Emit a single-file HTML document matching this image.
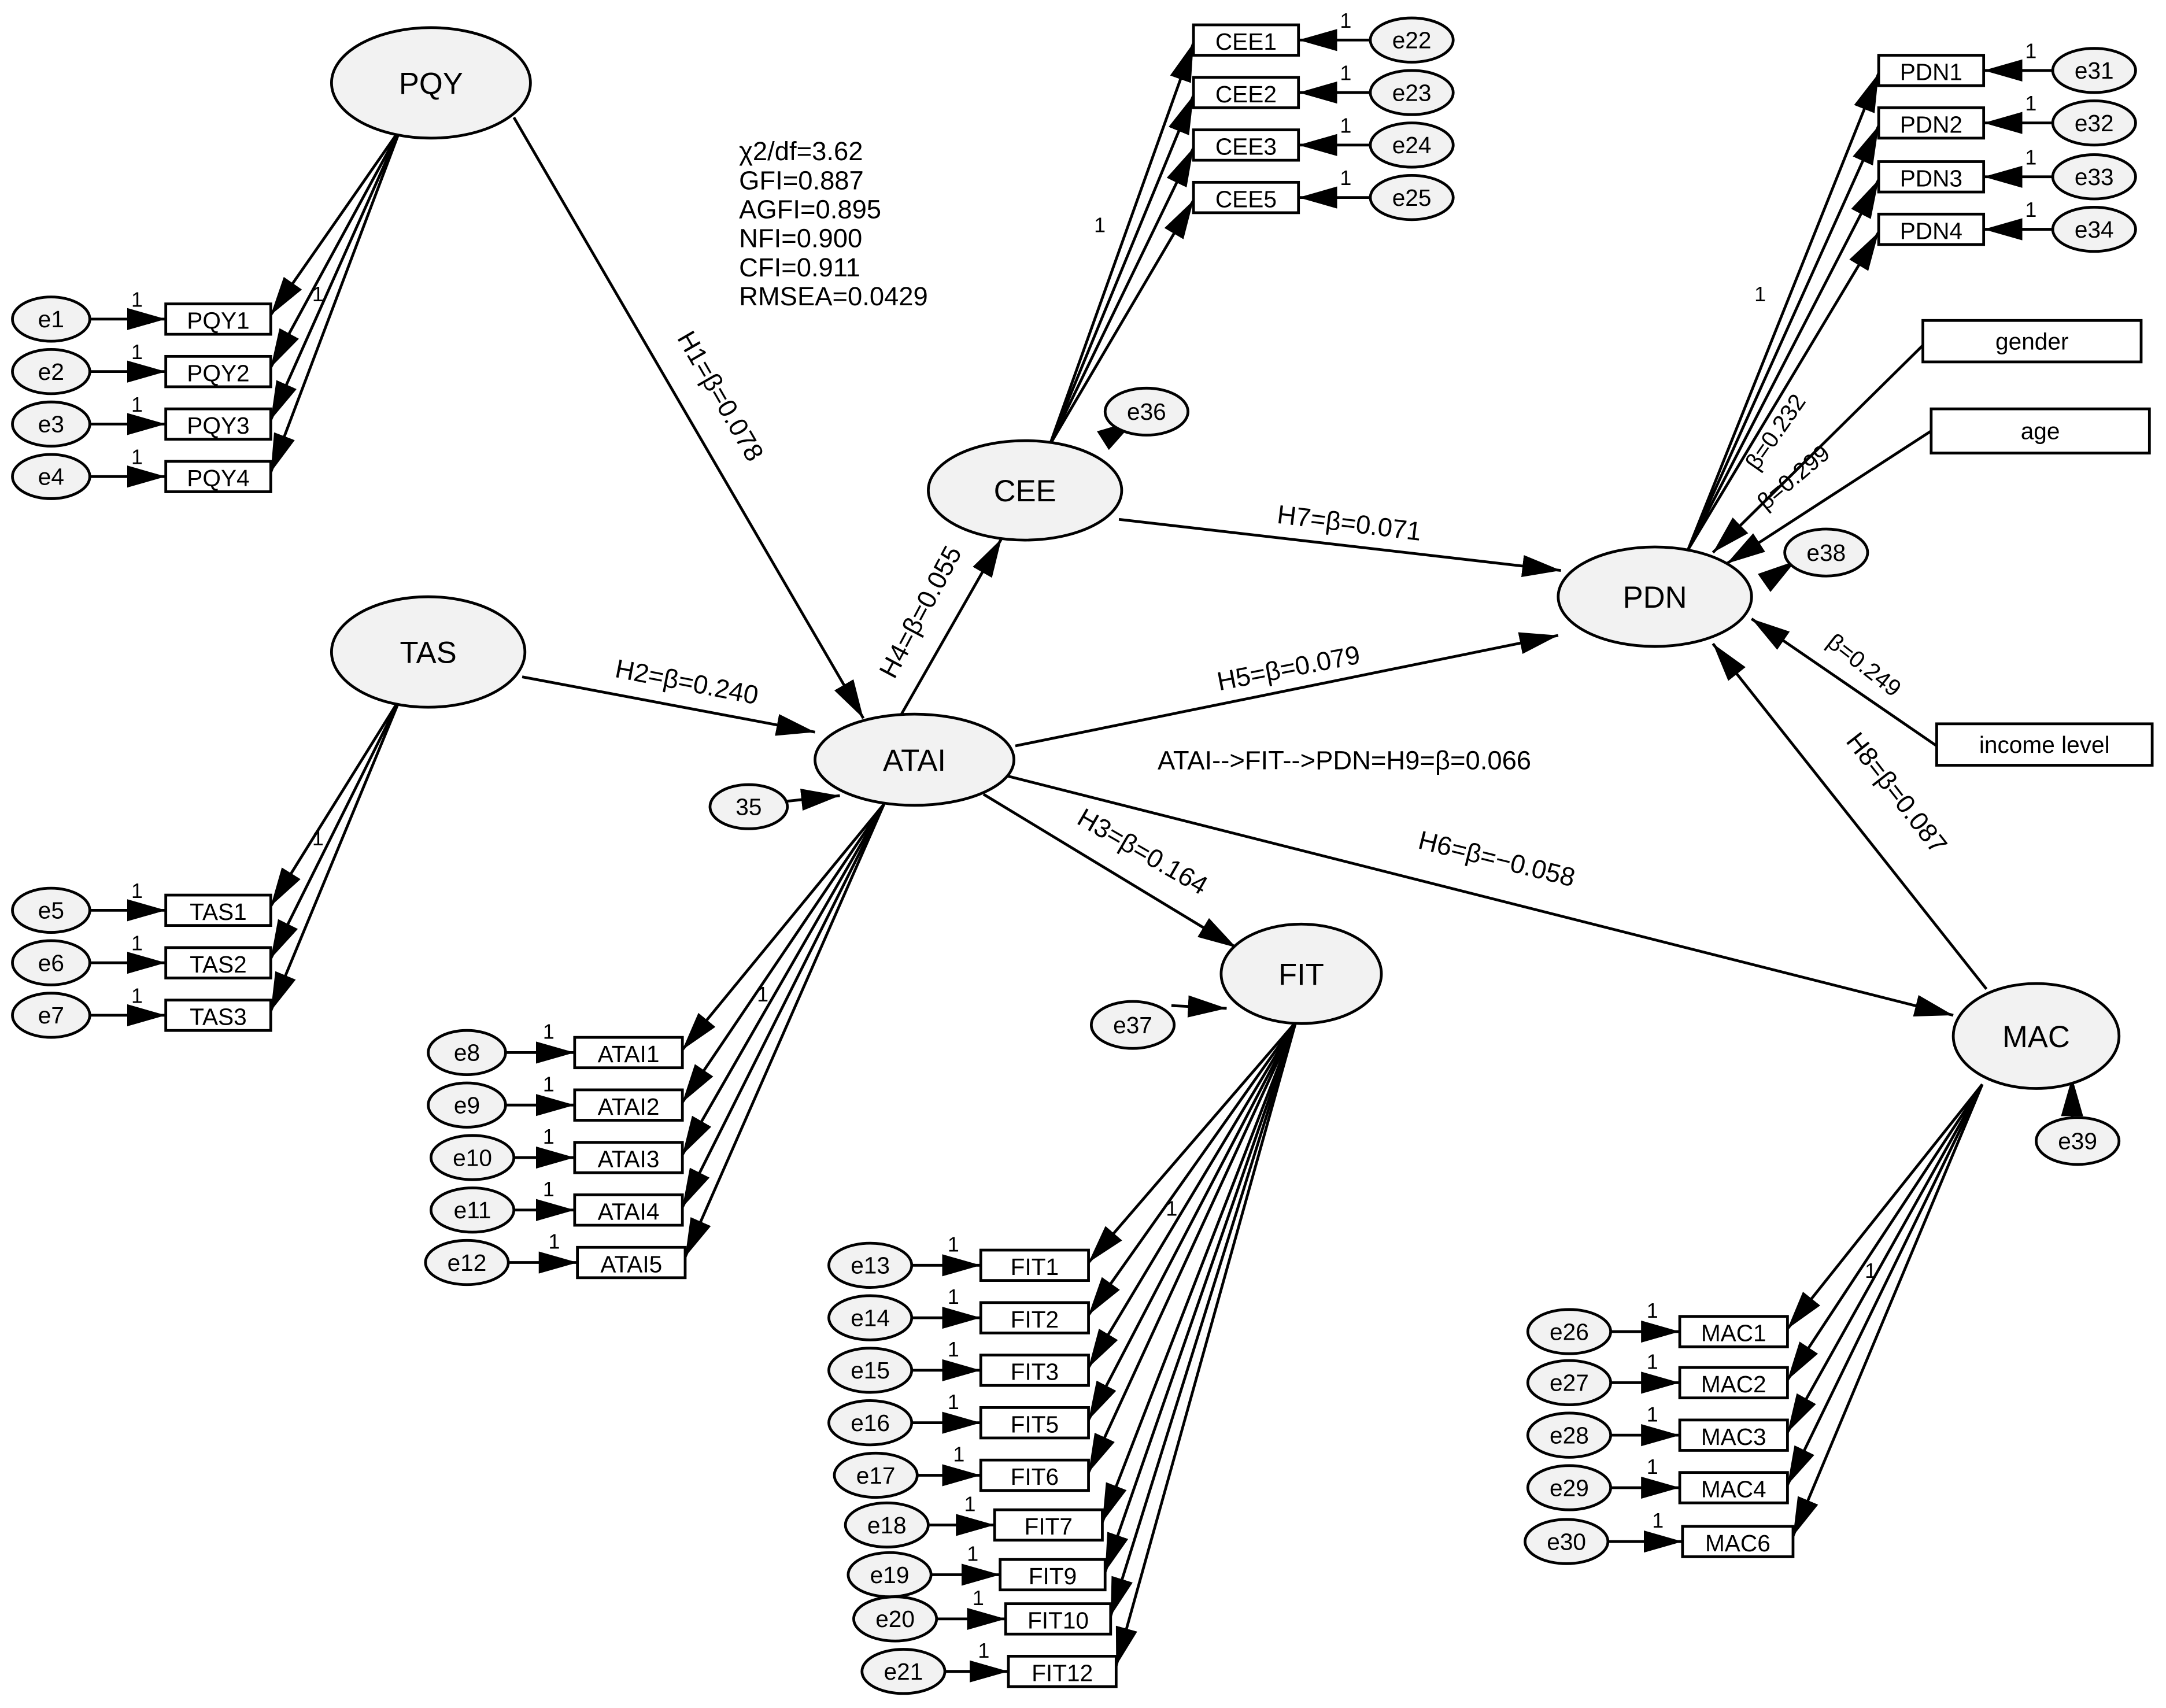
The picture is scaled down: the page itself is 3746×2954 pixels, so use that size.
<!DOCTYPE html>
<html><head><meta charset="utf-8"><style>
html,body{margin:0;padding:0;background:#fff}
svg{display:block}
text{font-family:"Liberation Sans",Arial,sans-serif;fill:#000}
.lv{font-size:22px;text-anchor:middle}
.ob{font-size:17px;text-anchor:middle}
.er{font-size:17px;text-anchor:middle}
.one{font-size:15px}
.pl{font-size:19px;text-anchor:middle}
ellipse{fill:#f2f2f2;stroke:#000;stroke-width:2}
rect{fill:#fff;stroke:#000;stroke-width:2}
line{stroke:#000;stroke-width:2}
</style></head><body>
<svg width="3746" height="2954" viewBox="0 0 1568 1236.5" preserveAspectRatio="none" xmlns="http://www.w3.org/2000/svg">
<defs><marker id="a" markerWidth="12" markerHeight="8" refX="11" refY="4" orient="auto" markerUnits="userSpaceOnUse" viewBox="0 0 12 8"><path d="M0,0L12,4L0,8z" fill="#000"/></marker>
<marker id="b" viewBox="0 0 10 10" refX="10" refY="5" markerWidth="28" markerHeight="16" orient="auto" markerUnits="userSpaceOnUse" preserveAspectRatio="none"><path d="M0,0L10,5L0,10z" fill="#000"/></marker></defs>
<g marker-end="url(#b)">
<!-- structural -->
<line x1="372" y1="85" x2="625" y2="520"/>
<line x1="378" y1="490" x2="590" y2="530"/>
<line x1="652" y1="518" x2="725" y2="390"/>
<line x1="810" y1="376" x2="1130" y2="413"/>
<line x1="735" y1="540" x2="1128" y2="460"/>
<line x1="712" y1="575" x2="895" y2="686"/>
<line x1="730" y1="562" x2="1414" y2="735"/>
<line x1="1438" y1="716" x2="1240" y2="466"/>
<line x1="1392" y1="250" x2="1240" y2="400"/>
<line x1="1398" y1="312" x2="1250" y2="408"/>
<line x1="1402" y1="540" x2="1268" y2="448"/>
<line x1="570" y1="580" x2="608" y2="576"/>
<line x1="800" y1="318" x2="822" y2="304"/>
<line x1="848" y1="728" x2="888" y2="730"/>
<line x1="1280" y1="420" x2="1300" y2="406"/>
<line x1="1500" y1="810" x2="1500" y2="780"/>
<!-- PQY -->
<line x1="290" y1="93" x2="196" y2="228"/><line x1="290" y1="93" x2="196" y2="266"/><line x1="290" y1="93" x2="196" y2="304"/><line x1="290" y1="93" x2="196" y2="342"/>
<!-- TAS -->
<line x1="290" y1="505" x2="196" y2="656"/><line x1="290" y1="505" x2="196" y2="694"/><line x1="290" y1="505" x2="196" y2="732"/>
<!-- ATAI -->
<line x1="640" y1="582" x2="494" y2="760"/><line x1="640" y1="582" x2="494" y2="798"/><line x1="640" y1="582" x2="494" y2="836"/><line x1="640" y1="582" x2="494" y2="874"/><line x1="640" y1="582" x2="496" y2="910"/>
<!-- CEE -->
<line x1="760" y1="322" x2="864" y2="31"/><line x1="760" y1="322" x2="864" y2="69"/><line x1="760" y1="322" x2="864" y2="107"/><line x1="760" y1="322" x2="864" y2="145"/>
<!-- PDN -->
<line x1="1222" y1="398" x2="1360" y2="53"/><line x1="1222" y1="398" x2="1360" y2="91"/><line x1="1222" y1="398" x2="1360" y2="130"/><line x1="1222" y1="398" x2="1360" y2="168"/>
<!-- FIT -->
<line x1="938" y1="740" x2="788" y2="914"/><line x1="938" y1="740" x2="788" y2="952"/><line x1="938" y1="740" x2="788" y2="990"/><line x1="938" y1="740" x2="788" y2="1028"/><line x1="938" y1="740" x2="788" y2="1066"/><line x1="938" y1="740" x2="798" y2="1102"/><line x1="938" y1="740" x2="800" y2="1138"/><line x1="938" y1="740" x2="804" y2="1170"/><line x1="938" y1="740" x2="808" y2="1206"/>
<!-- MAC -->
<line x1="1435" y1="785" x2="1294" y2="962"/><line x1="1435" y1="785" x2="1294" y2="999"/><line x1="1435" y1="785" x2="1294" y2="1037"/><line x1="1435" y1="785" x2="1294" y2="1075"/><line x1="1435" y1="785" x2="1298" y2="1112"/>
<!-- errors -->
<line x1="65" y1="231" x2="120" y2="231"/><line x1="65" y1="269" x2="120" y2="269"/><line x1="65" y1="307" x2="120" y2="307"/><line x1="65" y1="345" x2="120" y2="345"/>
<line x1="65" y1="659" x2="120" y2="659"/><line x1="65" y1="697" x2="120" y2="697"/><line x1="65" y1="735" x2="120" y2="735"/>
<line x1="366" y1="762" x2="416" y2="762"/><line x1="366" y1="800" x2="416" y2="800"/><line x1="372" y1="838" x2="416" y2="838"/><line x1="372" y1="876" x2="416" y2="876"/><line x1="368" y1="914" x2="418" y2="914"/>
<line x1="658" y1="916" x2="710" y2="916"/><line x1="658" y1="954" x2="710" y2="954"/><line x1="658" y1="992" x2="710" y2="992"/><line x1="658" y1="1030" x2="710" y2="1030"/><line x1="662" y1="1068" x2="710" y2="1068"/><line x1="670" y1="1104" x2="720" y2="1104"/><line x1="672" y1="1140" x2="724" y2="1140"/><line x1="676" y1="1172" x2="728" y2="1172"/><line x1="682" y1="1210" x2="730" y2="1210"/>
<line x1="1166" y1="964" x2="1216" y2="964"/><line x1="1166" y1="1001" x2="1216" y2="1001"/><line x1="1166" y1="1039" x2="1216" y2="1039"/><line x1="1166" y1="1077" x2="1216" y2="1077"/><line x1="1164" y1="1116" x2="1218" y2="1116"/>
<line x1="992" y1="29" x2="940" y2="29"/><line x1="992" y1="67" x2="940" y2="67"/><line x1="992" y1="105" x2="940" y2="105"/><line x1="992" y1="143" x2="940" y2="143"/>
<line x1="1486" y1="51" x2="1436" y2="51"/><line x1="1486" y1="89" x2="1436" y2="89"/><line x1="1486" y1="128" x2="1436" y2="128"/><line x1="1486" y1="166" x2="1436" y2="166"/>
</g>
<!-- latent ellipses -->
<ellipse cx="312" cy="60" rx="72" ry="40"/><text class="lv" x="312" y="68">PQY</text>
<ellipse cx="310" cy="472" rx="70" ry="40"/><text class="lv" x="310" y="480">TAS</text>
<ellipse cx="662" cy="550" rx="72" ry="33"/><text class="lv" x="662" y="558">ATAI</text>
<ellipse cx="742" cy="355" rx="70" ry="36"/><text class="lv" x="742" y="363">CEE</text>
<ellipse cx="1198" cy="432" rx="70" ry="36"/><text class="lv" x="1198" y="440">PDN</text>
<ellipse cx="942" cy="705" rx="58" ry="36"/><text class="lv" x="942" y="713">FIT</text>
<ellipse cx="1474" cy="750" rx="60" ry="38"/><text class="lv" x="1474" y="758">MAC</text>
<!-- residual ellipses -->
<ellipse cx="542" cy="584" rx="28" ry="16"/><text class="er" x="542" y="590">35</text>
<ellipse cx="830" cy="298" rx="30" ry="17"/><text class="er" x="830" y="304">e36</text>
<ellipse cx="820" cy="742" rx="30" ry="17"/><text class="er" x="820" y="748">e37</text>
<ellipse cx="1322" cy="400" rx="30" ry="17"/><text class="er" x="1322" y="406">e38</text>
<ellipse cx="1504" cy="826" rx="30" ry="17"/><text class="er" x="1504" y="832">e39</text>
<!-- PQY obs -->
<g>
<rect x="120" y="220" width="76" height="22"/><text class="ob" x="158" y="238">PQY1</text>
<rect x="120" y="258" width="76" height="22"/><text class="ob" x="158" y="276">PQY2</text>
<rect x="120" y="296" width="76" height="22"/><text class="ob" x="158" y="314">PQY3</text>
<rect x="120" y="334" width="76" height="22"/><text class="ob" x="158" y="352">PQY4</text>
<ellipse cx="37" cy="231" rx="28" ry="16"/><text class="er" x="37" y="237">e1</text>
<ellipse cx="37" cy="269" rx="28" ry="16"/><text class="er" x="37" y="275">e2</text>
<ellipse cx="37" cy="307" rx="28" ry="16"/><text class="er" x="37" y="313">e3</text>
<ellipse cx="37" cy="345" rx="28" ry="16"/><text class="er" x="37" y="351">e4</text>
<text class="one" x="95" y="222">1</text><text class="one" x="95" y="260">1</text><text class="one" x="95" y="298">1</text><text class="one" x="95" y="336">1</text><text class="one" x="226" y="218">1</text>
</g>
<g>
<rect x="120" y="648" width="76" height="22"/><text class="ob" x="158" y="666">TAS1</text>
<rect x="120" y="686" width="76" height="22"/><text class="ob" x="158" y="704">TAS2</text>
<rect x="120" y="724" width="76" height="22"/><text class="ob" x="158" y="742">TAS3</text>
<ellipse cx="37" cy="659" rx="28" ry="16"/><text class="er" x="37" y="665">e5</text>
<ellipse cx="37" cy="697" rx="28" ry="16"/><text class="er" x="37" y="703">e6</text>
<ellipse cx="37" cy="735" rx="28" ry="16"/><text class="er" x="37" y="741">e7</text>
<text class="one" x="95" y="650">1</text><text class="one" x="95" y="688">1</text><text class="one" x="95" y="726">1</text><text class="one" x="226" y="612">1</text>
</g>
<g>
<rect x="416" y="751" width="78" height="22"/><text class="ob" x="455" y="769">ATAI1</text>
<rect x="416" y="789" width="78" height="22"/><text class="ob" x="455" y="807">ATAI2</text>
<rect x="416" y="827" width="78" height="22"/><text class="ob" x="455" y="845">ATAI3</text>
<rect x="416" y="865" width="78" height="22"/><text class="ob" x="455" y="883">ATAI4</text>
<rect x="418" y="903" width="78" height="22"/><text class="ob" x="457" y="921">ATAI5</text>
<ellipse cx="338" cy="762" rx="28" ry="16"/><text class="er" x="338" y="768">e8</text>
<ellipse cx="338" cy="800" rx="28" ry="16"/><text class="er" x="338" y="806">e9</text>
<ellipse cx="342" cy="838" rx="30" ry="16"/><text class="er" x="342" y="844">e10</text>
<ellipse cx="342" cy="876" rx="30" ry="16"/><text class="er" x="342" y="882">e11</text>
<ellipse cx="338" cy="914" rx="30" ry="16"/><text class="er" x="338" y="920">e12</text>
<text class="one" x="393" y="752">1</text><text class="one" x="393" y="790">1</text><text class="one" x="393" y="828">1</text><text class="one" x="393" y="866">1</text><text class="one" x="397" y="904">1</text><text class="one" x="548" y="725">1</text>
</g>
<g>
<rect x="710" y="905" width="78" height="22"/><text class="ob" x="749" y="923">FIT1</text>
<rect x="710" y="943" width="78" height="22"/><text class="ob" x="749" y="961">FIT2</text>
<rect x="710" y="981" width="78" height="22"/><text class="ob" x="749" y="999">FIT3</text>
<rect x="710" y="1019" width="78" height="22"/><text class="ob" x="749" y="1037">FIT5</text>
<rect x="710" y="1057" width="78" height="22"/><text class="ob" x="749" y="1075">FIT6</text>
<rect x="720" y="1093" width="78" height="22"/><text class="ob" x="759" y="1111">FIT7</text>
<rect x="724" y="1129" width="76" height="22"/><text class="ob" x="762" y="1147">FIT9</text>
<rect x="728" y="1161" width="76" height="22"/><text class="ob" x="766" y="1179">FIT10</text>
<rect x="730" y="1199" width="78" height="22"/><text class="ob" x="769" y="1217">FIT12</text>
<ellipse cx="630" cy="916" rx="30" ry="16"/><text class="er" x="630" y="922">e13</text>
<ellipse cx="630" cy="954" rx="30" ry="16"/><text class="er" x="630" y="960">e14</text>
<ellipse cx="630" cy="992" rx="30" ry="16"/><text class="er" x="630" y="998">e15</text>
<ellipse cx="630" cy="1030" rx="30" ry="16"/><text class="er" x="630" y="1036">e16</text>
<ellipse cx="634" cy="1068" rx="30" ry="16"/><text class="er" x="634" y="1074">e17</text>
<ellipse cx="642" cy="1104" rx="30" ry="16"/><text class="er" x="642" y="1110">e18</text>
<ellipse cx="644" cy="1140" rx="30" ry="16"/><text class="er" x="644" y="1146">e19</text>
<ellipse cx="648" cy="1172" rx="30" ry="16"/><text class="er" x="648" y="1178">e20</text>
<ellipse cx="654" cy="1210" rx="30" ry="16"/><text class="er" x="654" y="1216">e21</text>
<text class="one" x="686" y="906">1</text><text class="one" x="686" y="944">1</text><text class="one" x="686" y="982">1</text><text class="one" x="686" y="1020">1</text><text class="one" x="690" y="1058">1</text><text class="one" x="698" y="1094">1</text><text class="one" x="700" y="1130">1</text><text class="one" x="704" y="1162">1</text><text class="one" x="708" y="1200">1</text><text class="one" x="844" y="880">1</text>
</g>
<g>
<rect x="1216" y="953" width="78" height="22"/><text class="ob" x="1255" y="971">MAC1</text>
<rect x="1216" y="990" width="78" height="22"/><text class="ob" x="1255" y="1008">MAC2</text>
<rect x="1216" y="1028" width="78" height="22"/><text class="ob" x="1255" y="1046">MAC3</text>
<rect x="1216" y="1066" width="78" height="22"/><text class="ob" x="1255" y="1084">MAC4</text>
<rect x="1218" y="1105" width="80" height="22"/><text class="ob" x="1258" y="1123">MAC6</text>
<ellipse cx="1136" cy="964" rx="30" ry="16"/><text class="er" x="1136" y="970">e26</text>
<ellipse cx="1136" cy="1001" rx="30" ry="16"/><text class="er" x="1136" y="1007">e27</text>
<ellipse cx="1136" cy="1039" rx="30" ry="16"/><text class="er" x="1136" y="1045">e28</text>
<ellipse cx="1136" cy="1077" rx="30" ry="16"/><text class="er" x="1136" y="1083">e29</text>
<ellipse cx="1134" cy="1116" rx="30" ry="16"/><text class="er" x="1134" y="1122">e30</text>
<text class="one" x="1192" y="954">1</text><text class="one" x="1192" y="991">1</text><text class="one" x="1192" y="1029">1</text><text class="one" x="1192" y="1067">1</text><text class="one" x="1196" y="1106">1</text><text class="one" x="1350" y="925">1</text>
</g>
<g>
<rect x="864" y="18" width="76" height="22"/><text class="ob" x="902" y="36">CEE1</text>
<rect x="864" y="56" width="76" height="22"/><text class="ob" x="902" y="74">CEE2</text>
<rect x="864" y="94" width="76" height="22"/><text class="ob" x="902" y="112">CEE3</text>
<rect x="864" y="132" width="76" height="22"/><text class="ob" x="902" y="150">CEE5</text>
<ellipse cx="1022" cy="29" rx="30" ry="16"/><text class="er" x="1022" y="35">e22</text>
<ellipse cx="1022" cy="67" rx="30" ry="16"/><text class="er" x="1022" y="73">e23</text>
<ellipse cx="1022" cy="105" rx="30" ry="16"/><text class="er" x="1022" y="111">e24</text>
<ellipse cx="1022" cy="143" rx="30" ry="16"/><text class="er" x="1022" y="149">e25</text>
<text class="one" x="970" y="20">1</text><text class="one" x="970" y="58">1</text><text class="one" x="970" y="96">1</text><text class="one" x="970" y="134">1</text><text class="one" x="792" y="168">1</text>
</g>
<g>
<rect x="1360" y="40" width="76" height="22"/><text class="ob" x="1398" y="58">PDN1</text>
<rect x="1360" y="78" width="76" height="22"/><text class="ob" x="1398" y="96">PDN2</text>
<rect x="1360" y="117" width="76" height="22"/><text class="ob" x="1398" y="135">PDN3</text>
<rect x="1360" y="155" width="76" height="22"/><text class="ob" x="1398" y="173">PDN4</text>
<ellipse cx="1516" cy="51" rx="30" ry="16"/><text class="er" x="1516" y="57">e31</text>
<ellipse cx="1516" cy="89" rx="30" ry="16"/><text class="er" x="1516" y="95">e32</text>
<ellipse cx="1516" cy="128" rx="30" ry="16"/><text class="er" x="1516" y="134">e33</text>
<ellipse cx="1516" cy="166" rx="30" ry="16"/><text class="er" x="1516" y="172">e34</text>
<text class="one" x="1466" y="42">1</text><text class="one" x="1466" y="80">1</text><text class="one" x="1466" y="119">1</text><text class="one" x="1466" y="157">1</text><text class="one" x="1270" y="218">1</text>
</g>
<rect x="1392" y="232" width="158" height="30"/><text class="ob" x="1471" y="253">gender</text>
<rect x="1398" y="296" width="158" height="32"/><text class="ob" x="1477" y="318">age</text>
<rect x="1402" y="524" width="156" height="30"/><text class="ob" x="1480" y="545">income level</text>
<!-- path labels -->
<text class="pl" transform="translate(516,290) rotate(60)">H1=β=0.078</text>
<text class="pl" transform="translate(496,500) rotate(11)">H2=β=0.240</text>
<text class="pl" transform="translate(672,446) rotate(-62)">H4=β=0.055</text>
<text class="pl" transform="translate(976,385) rotate(7)">H7=β=0.071</text>
<text class="pl" transform="translate(934,490) rotate(-11)">H5=β=0.079</text>
<text class="pl" transform="translate(824,622) rotate(30)">H3=β=0.164</text>
<text class="pl" transform="translate(1082,628) rotate(14)">H6=β=−0.058</text>
<text class="pl" transform="translate(1368,578) rotate(52)">H8=β=0.087</text>
<text class="pl" transform="translate(1290,316) rotate(-55)" style="font-size:17px">β=0.232</text>
<text class="pl" transform="translate(1302,350) rotate(-40)" style="font-size:17px">β=0.299</text>
<text class="pl" transform="translate(1346,486) rotate(38)" style="font-size:17px">β=0.249</text>
<text x="838" y="557" style="font-size:19px">ATAI--&gt;FIT--&gt;PDN=H9=β=0.066</text>
<g style="font-size:19px">
<text x="535" y="116">χ2/df=3.62</text>
<text x="535" y="137">GFI=0.887</text>
<text x="535" y="158">AGFI=0.895</text>
<text x="535" y="179">NFI=0.900</text>
<text x="535" y="200">CFI=0.911</text>
<text x="535" y="221">RMSEA=0.0429</text>
</g>
</svg>
</body></html>
